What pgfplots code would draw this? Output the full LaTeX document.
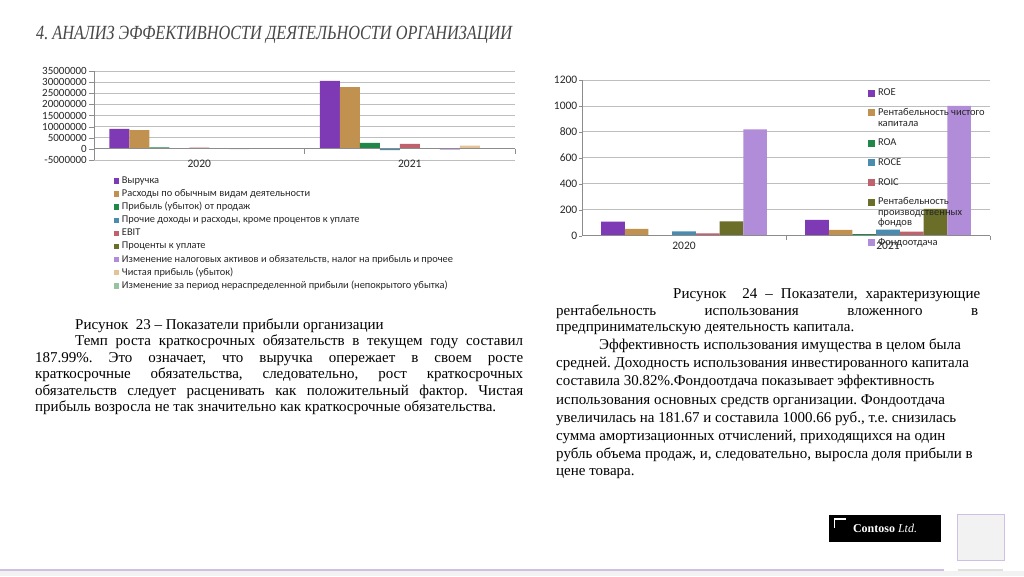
\documentclass[border=0pt]{standalone}
\usepackage{pgfplots}
\pgfplotsset{compat=1.18}
\usepackage{fontspec}
\setmainfont{Liberation Serif}
\newfontfamily\calfont{Carlito}
\definecolor{c1}{RGB}{126,57,181}
\definecolor{c2}{RGB}{193,145,79}
\definecolor{c3}{RGB}{33,135,73}
\definecolor{c4}{RGB}{74,140,176}
\definecolor{c5}{RGB}{192,98,110}
\definecolor{c6}{RGB}{107,110,40}
\definecolor{c7}{RGB}{177,140,216}
\definecolor{c8}{RGB}{228,196,150}
\definecolor{c9}{RGB}{150,196,160}
\definecolor{lav}{RGB}{205,192,228}
\definecolor{gridc}{RGB}{190,190,190}
% struts: depth 2.6pt
\newcommand\lsA{\rule[-2.6pt]{0pt}{10.6pt}}
% legend 2: first row, new entry rows, continuation rows
\newcommand\lsF{\rule[-2.6pt]{0pt}{10.6pt}}
\newcommand\lsN{\rule[-2.6pt]{0pt}{20.8pt}}
\newcommand\lsC{\rule[-2.6pt]{0pt}{11.6pt}}
\newcommand\jl[2]{\makebox[#1pt][s]{#2}}
\begin{document}
\frenchspacing
\begin{tikzpicture}[x=1pt,y=1pt]
\useasboundingbox (0,0) rectangle (1024,576);
\fill[white] (0,0) rectangle (1024,576);
% title
\node[anchor=base west, inner sep=0pt, text=black!72] at (36,536) {\resizebox{476pt}{13.3pt}{\fontsize{20}{20}\selectfont\itshape 4. АНАЛИЗ ЭФФЕКТИВНОСТИ ДЕЯТЕЛЬНОСТИ ОРГАНИЗАЦИИ}};

% ---------- chart 1 ----------
\begin{axis}[
  at={(94pt,416pt)}, anchor=south west,
  scale only axis, width=421pt, height=89pt,
  ybar=0pt, bar width=20pt,
  xmin=-0.5, xmax=1.5, ymin=-5000000, ymax=35000000,
  scaled y ticks=false,
  xtick={0,1}, xticklabels={2020,2021},
  ytick={-5000000,0,5000000,10000000,15000000,20000000,25000000,30000000,35000000},
  yticklabels={-5000000,0,5000000,10000000,15000000,20000000,25000000,30000000,35000000},
  axis y line*=left, axis x line*=bottom,
  x axis line style={draw=none}, y axis line style={draw=black!45},
  xtick style={draw=none}, ytick style={draw=black!45},
  tick align=outside, major tick length=5pt,
  ymajorgrids, grid style={gridc, line width=0.8pt},
  yticklabel style={font=\calfont\fontsize{11}{12}\selectfont, text=black!85, inner sep=2pt},
  xticklabel style={font=\calfont\fontsize{11.5}{12}\selectfont, text=black!85, anchor=center, yshift=1pt},
  clip=false,
  legend image code/.code={\fill[#1] (0pt,-0.3pt) rectangle (5.5pt,5.2pt);},
  legend style={at={(axis description cs:0.0475,-0.174)}, anchor=north west, draw=none, fill=none,
    inner sep=0pt, outer sep=0pt, row sep=3.6pt, column sep=2.5pt,
    font=\calfont\fontsize{10.4}{11}\selectfont, text=black!85,
    nodes={inner sep=0pt}, cells={anchor=base west}},
]
\addplot[fill=c1, draw=none] coordinates {(0,9000000) (1,30600000)};
\addlegendentry{\lsA Выручка}
\addplot[fill=c2, draw=none] coordinates {(0,8400000) (1,27800000)};
\addlegendentry{\lsA Расходы по обычным видам деятельности}
\addplot[fill=c3, draw=none] coordinates {(0,700000) (1,2700000)};
\addlegendentry{\lsA Прибыль (убыток) от продаж}
\addplot[fill=c4, draw=none] coordinates {(0,-50000) (1,-550000)};
\addlegendentry{\lsA Прочие доходы и расходы, кроме процентов к уплате}
\addplot[fill=c5, draw=none] coordinates {(0,600000) (1,2250000)};
\addlegendentry{\lsA EBIT}
\addplot[fill=c6, draw=none] coordinates {(0,120000) (1,250000)};
\addlegendentry{\lsA Проценты к уплате}
\addplot[fill=c7, draw=none] coordinates {(0,-60000) (1,-300000)};
\addlegendentry{\lsA Изменение налоговых активов и обязательств, налог на прибыль и прочее}
\addplot[fill=c8, draw=none] coordinates {(0,350000) (1,1500000)};
\addlegendentry{\lsA Чистая прибыль (убыток)}
\addplot[fill=c9, draw=none] coordinates {(0,300000) (1,50000)};
\addlegendentry{\lsA Изменение за период нераспределенной прибыли (непокрытого убытка)}
\draw[black!45, line width=0.8pt] (axis cs:-0.5,0) -- (axis cs:1.5,0);
\draw[black!45] (axis cs:0.5,0) -- ++(0pt,-5pt);
\draw[black!45] (axis cs:1.5,0) -- ++(0pt,-5pt);
\end{axis}

% ---------- chart 2 ----------
\begin{axis}[
  at={(582pt,340.3pt)}, anchor=south west,
  scale only axis, width=408pt, height=155.7pt,
  ybar=0pt, bar width=23.7pt,
  xmin=-0.5, xmax=1.5, ymin=0, ymax=1200,
  xtick={0,1}, xticklabels={2020,2021},
  ytick={0,200,400,600,800,1000,1200},
  yticklabels={0,200,400,600,800,1000,1200},
  axis y line*=left, axis x line*=bottom,
  x axis line style={draw=none}, y axis line style={draw=black!45},
  xtick style={draw=none}, ytick style={draw=black!45},
  tick align=outside, major tick length=3pt,
  ymajorgrids, grid style={gridc, line width=0.8pt},
  yticklabel style={font=\calfont\fontsize{11.5}{12}\selectfont, text=black!85, inner sep=1.5pt},
  xticklabel style={font=\calfont\fontsize{11.5}{12}\selectfont, text=black!85, anchor=center, yshift=-7.5pt},
  clip=false,
  legend image code/.code={\fill[#1] (0pt,-0.7pt) rectangle (7pt,6.3pt);},
  legend style={at={(axis description cs:0.701,0.949)}, anchor=north west, draw=none, fill=none,
    inner sep=0pt, outer sep=0pt, row sep=0pt, column sep=3pt,
    font=\calfont\fontsize{10.5}{11}\selectfont, text=black!85,
    nodes={inner sep=0pt}, cells={anchor=base west}},
]
\addplot[fill=c1, draw=none, bar shift=-71.1pt] coordinates {(0,108) (1,122)};
\addlegendentry{\lsF ROE}
\addplot[fill=c2, draw=none, bar shift=-47.4pt] coordinates {(0,52) (1,44)};
\addlegendentry{\lsN Рентабельность чистого}
\addlegendimage{empty legend}
\addlegendentry{\lsC капитала}
\addplot[fill=c3, draw=none, bar shift=-23.7pt] coordinates {(0,5) (1,12)};
\addlegendentry{\lsN ROA}
\addplot[fill=c4, draw=none, bar shift=0pt] coordinates {(0,34) (1,46)};
\addlegendentry{\lsN ROCE}
\addplot[fill=c5, draw=none, bar shift=23.7pt] coordinates {(0,18) (1,30.82)};
\addlegendentry{\lsN ROIC}
\addplot[fill=c6, draw=none, bar shift=47.4pt] coordinates {(0,111) (1,206)};
\addlegendentry{\lsN Рентабельность}
\addlegendimage{empty legend}
\addlegendentry{\lsC производственных}
\addlegendimage{empty legend}
\addlegendentry{\lsC фондов}
\addplot[fill=c7, draw=none, bar shift=71.1pt] coordinates {(0,818.99) (1,1000.66)};
\addlegendentry{\lsN Фондоотдача}
\draw[black!45, line width=0.8pt] (axis cs:-0.5,0) -- (axis cs:1.5,0);
\draw[black!45] (axis cs:0.5,0) -- ++(0pt,-4pt);
\draw[black!45] (axis cs:1.5,0) -- ++(0pt,-4pt);
\end{axis}

% ---------- text ----------
\begin{scope}[every node/.style={anchor=base west, inner sep=0pt, font=\fontsize{15}{16}\selectfont}]
\node at (75,247) {Рисунок\ \ 23 – Показатели прибыли организации};
\node at (75,230.5) {\jl{448}{Темп роста краткосрочных обязательств в текущем году составил}};
\node at (35,214) {\jl{488}{187.99\%. Это означает, что выручка опережает в своем росте}};
\node at (35,197.5) {\jl{488}{краткосрочные обязательства, следовательно, рост краткосрочных}};
\node at (35,181) {\jl{488}{обязательств следует расценивать как положительный фактор. Чистая}};
\node at (35,164.5) {прибыль возросла не так значительно как краткосрочные обязательства.};
% right
\node at (673,277) {\jl{307}{Рисунок\ \ 24 – Показатели, характеризующие}};
\node at (556,260.5) {\jl{422}{рентабельность использования вложенного в}};
\node at (556,244) {предпринимательскую деятельность капитала.};
\node at (599,226.3) {Эффективность использования имущества в целом была};
\node at (556,209) {средней. Доходность использования инвестированного капитала};
\node at (556,190.3) {составила 30.82\%.Фондоотдача показывает эффективность};
\node at (556,172) {использования основных средств организации. Фондоотдача};
\node at (556,154) {увеличилась на 181.67 и составила 1000.66 руб., т.е. снизилась};
\node at (556,136) {сумма амортизационных отчислений, приходящихся на один};
\node at (556,118) {рубль объема продаж, и, следовательно, выросла доля прибыли в};
\node at (556,101) {цене товара.};
\end{scope}

% ---------- footer ----------
\fill[black] (829,34) rectangle (941,61);
\draw[white, line width=1.8pt] (834.5,48) -- (834.5,57) -- (846,57);
\node[text=white, inner sep=0pt, font=\fontsize{12}{12}\selectfont] at (885,47.5) {\textbf{Contoso} \textit{Ltd.}};
\filldraw[fill=black!5, draw=lav, line width=0.8pt] (957,16) rectangle (1004,62);
\fill[black!5] (0,0) rectangle (1024,5);
\draw[lav, line width=2pt] (0,6) -- (944,6);
\draw[black!12, line width=1.5pt] (958,6) -- (1003,6);
\end{tikzpicture}
\end{document}
